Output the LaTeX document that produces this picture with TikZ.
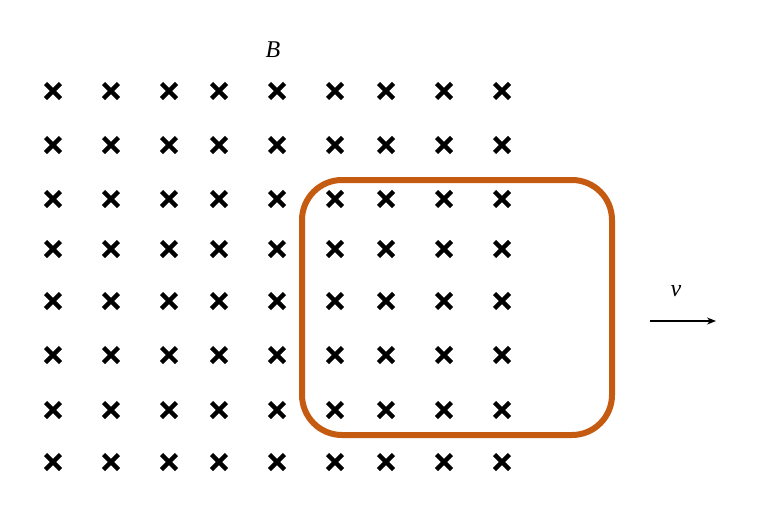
\documentclass[tikz,border=0pt]{standalone}
\usepackage{fontspec}
\setmainfont{Liberation Serif}
\usetikzlibrary{arrows.meta}
\definecolor{loopc}{HTML}{C55A11}
\tikzset{crossmark/.style={line width=4.5pt,black},
  lbl/.style={font=\fontsize{24}{28}\selectfont\itshape}}
\begin{document}
\begin{tikzpicture}[x=1pt,y=-1pt]
\useasboundingbox (0,0) rectangle (760,525);
\foreach \x in {53,111,169,219,277,335,386,444,502}
  \foreach \y in {91,145,199,249,301,355,410,462}
    \draw[crossmark] (\x-7.5,\y-7.5) -- (\x+7.5,\y+7.5) (\x-7.5,\y+7.5) -- (\x+7.5,\y-7.5);
\draw[loopc,line width=6pt,rounded corners=40pt] (302,180) rectangle (612,435);
\node[lbl] (B) at (273,50) {B};
\node[lbl] (v) at (676,291) {v};
\coordinate (a1) at (650,321);
\coordinate (a2) at (716,321);
\draw[line width=1.2pt,-{Stealth[length=9pt,width=7pt]}] (a1) -- (a2);
\end{tikzpicture}
\end{document}
